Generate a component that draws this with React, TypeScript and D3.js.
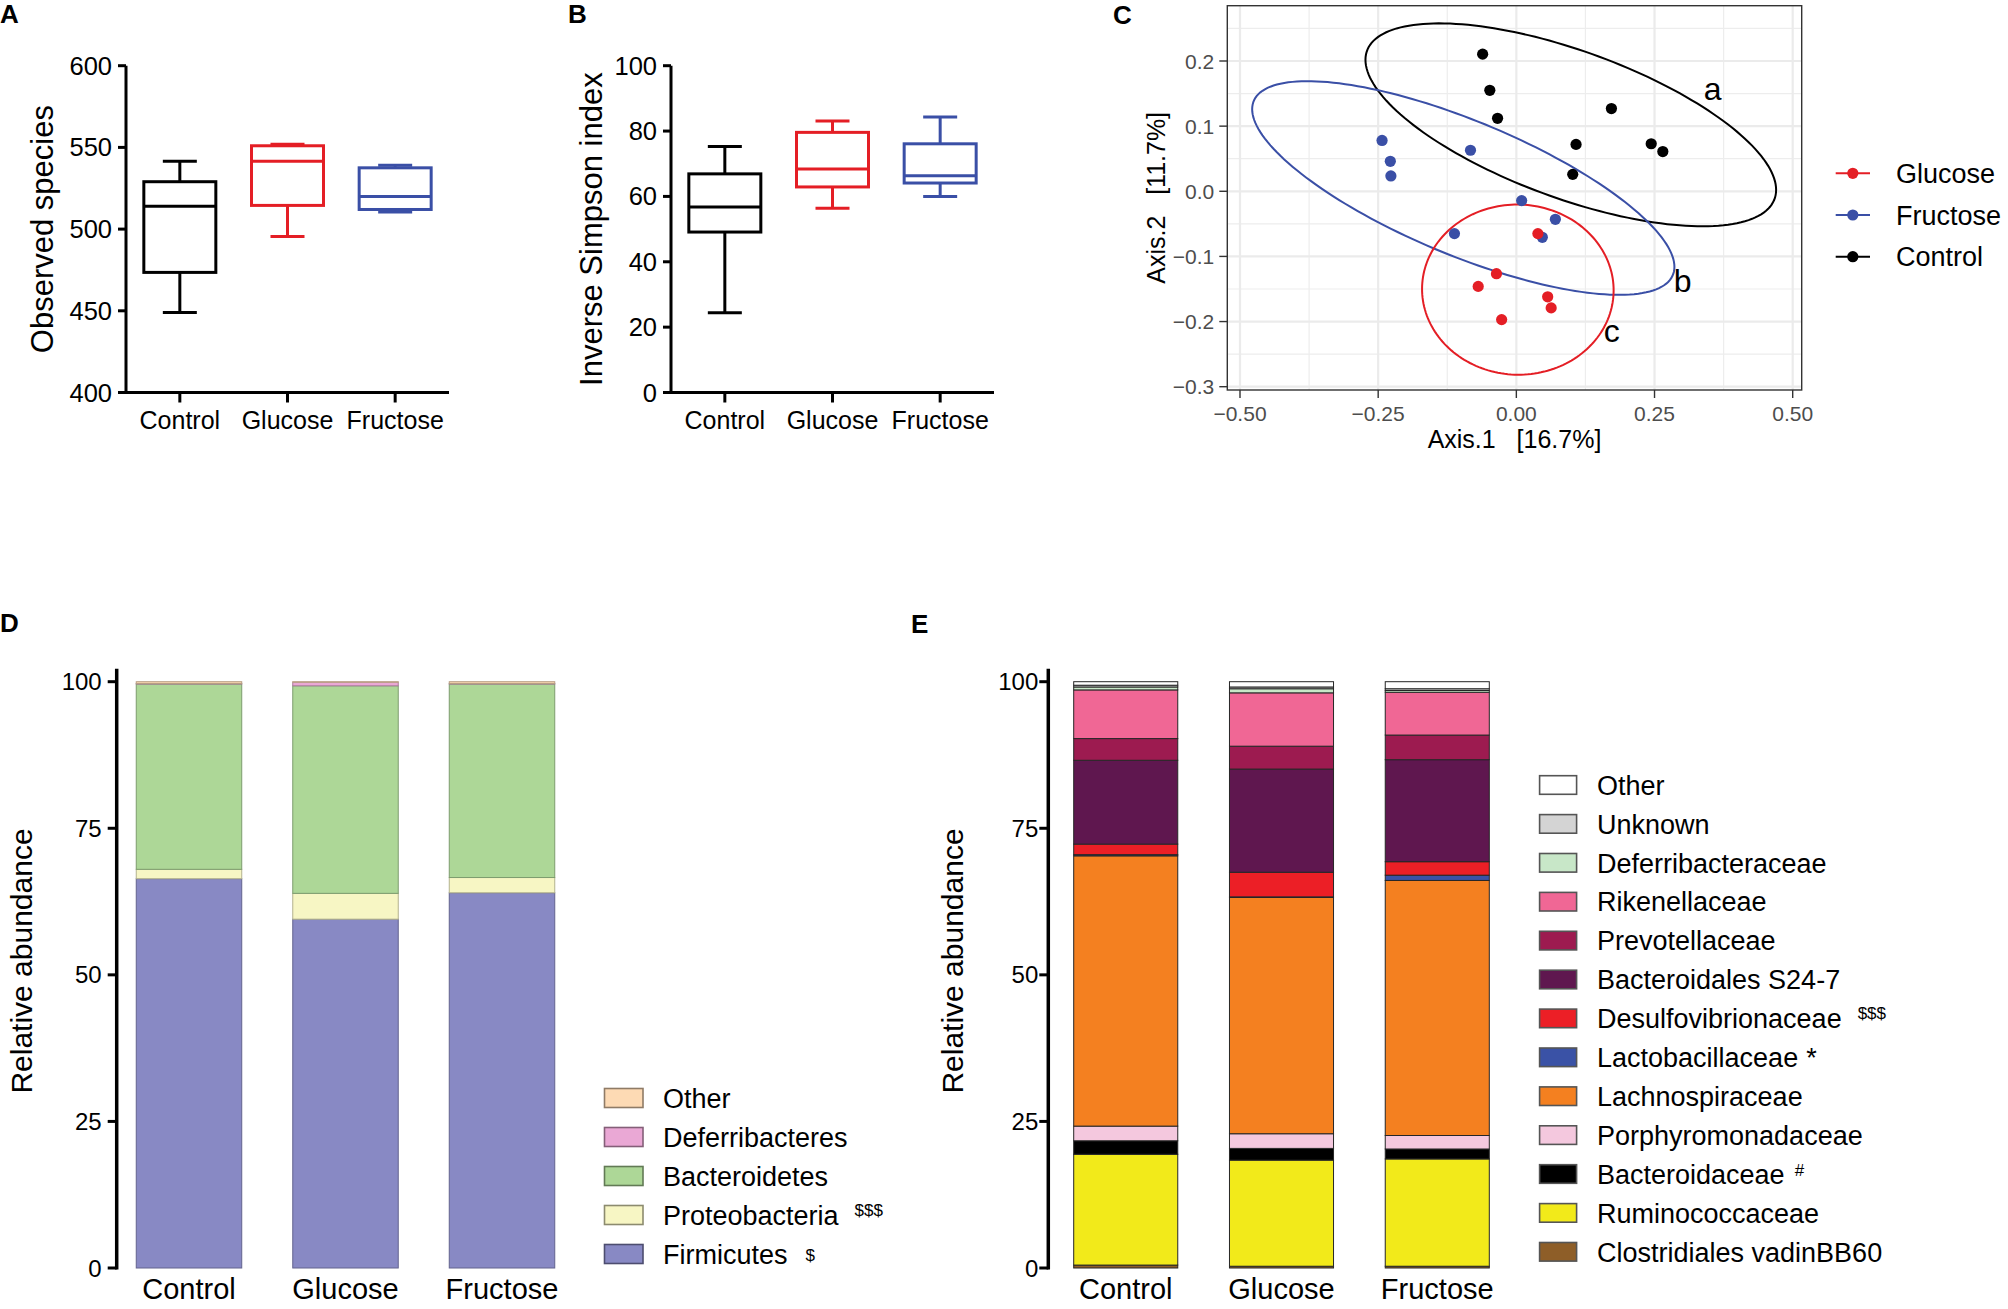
import React from "react";
import * as d3 from "d3";

const FONT = "'Liberation Sans', Arial, Helvetica, sans-serif";

// ---- shared groups ----
const groups = ["Control", "Glucose", "Fructose"];
const boxColors = ["#000000", "#E41E25", "#3A4FA6"];

// ---- A / B: box plot summaries ----
const observedSpecies = [
  { min: 449, q1: 473.5, median: 514, q3: 529, max: 541.5 },
  { min: 495.5, q1: 514.5, median: 541.5, q3: 551, max: 552 },
  { min: 510.5, q1: 512, median: 520, q3: 537.5, max: 539 },
];
const observedTicks = [400, 450, 500, 550, 600];

const inverseSimpson = [
  { min: 24.4, q1: 49.1, median: 56.8, q3: 66.9, max: 75.3 },
  { min: 56.4, q1: 62.9, median: 68.4, q3: 79.6, max: 83.1 },
  { min: 60.0, q1: 64.1, median: 66.3, q3: 76.1, max: 84.3 },
];
const simpsonTicks = [0, 20, 40, 60, 80, 100];

// ---- C: PCoA ----
const pcoaControl = [
  [-0.061, 0.2105], [-0.048, 0.155], [-0.034, 0.112], [0.172, 0.127],
  [0.108, 0.072], [0.244, 0.073], [0.265, 0.061], [0.102, 0.026],
];
const pcoaFructose = [
  [-0.243, 0.078], [-0.228, 0.046], [-0.227, 0.0235], [-0.083, 0.063],
  [0.0096, -0.0143], [-0.112, -0.065], [0.047, -0.0707], [0.0706, -0.043],
];
const pcoaGlucose = [
  [0.039, -0.065], [-0.036, -0.1265], [-0.069, -0.146],
  [-0.0266, -0.197], [0.0567, -0.162], [0.063, -0.179],
];
// ellipse: centre + lower-triangular shape (x = cx + lxx cos t, y = cy + lyx cos t + lyy sin t)
const pcoaEllipses = [
  { color: "#000000", cx: 0.0985, cy: 0.102, lxx: 0.3715, lyx: -0.0998, lyy: 0.1196 },
  { color: "#3A4FA6", cx: -0.096, cy: 0.005, lxx: 0.382, lyx: -0.121, lyy: 0.1107 },
  { color: "#E41E25", cx: 0.0027, cy: -0.151, lxx: 0.1733, lyx: -0.001, lyy: 0.1306 },
];
const pcoaLetters = [
  { text: "a", x: 0.339, y: 0.1398 },
  { text: "b", x: 0.2846, y: -0.1547 },
  { text: "c", x: 0.158, y: -0.2315 },
];
const pcoaXMajor = [-0.5, -0.25, 0, 0.25, 0.5];
const pcoaXMinor = [-0.375, -0.125, 0.125, 0.375];
const pcoaYMajor = [-0.3, -0.2, -0.1, 0, 0.1, 0.2];
const pcoaYMinor = [-0.25, -0.15, -0.05, 0.05, 0.15, 0.25];
const pcoaLegend = ["Glucose", "Fructose", "Control"];
const pcoaLegendColors = ["#E41E25", "#3A4FA6", "#000000"];

// ---- D: phylum composition (bottom to top) ----
const phylumNames = ["Firmicutes", "Proteobacteria", "Bacteroidetes", "Deferribacteres", "Other"];
const phylumColors = ["#8889C4", "#F7F6C4", "#ADD797", "#EAA8D5", "#FDDAB4"];
const phylumMarks = ["$", "$$$", "", "", ""];
const phylumControl = [66.4, 1.6, 31.6, 0.1, 0.3];
const phylumGlucose = [59.5, 4.4, 35.4, 0.6, 0.1];
const phylumFructose = [64.0, 2.6, 33.0, 0.1, 0.3];

// ---- E: family composition (bottom to top) ----
const familyNames = [
  "Clostridiales vadinBB60", "Ruminococcaceae", "Bacteroidaceae", "Porphyromonadaceae",
  "Lachnospiraceae", "Lactobacillaceae", "Desulfovibrionaceae", "Bacteroidales S24-7",
  "Prevotellaceae", "Rikenellaceae", "Deferribacteraceae", "Unknown", "Other",
];
const familyColors = [
  "#8E5E28", "#F2EA1A", "#000000", "#F4C8DE", "#F48020", "#3A52A6", "#EC1F26",
  "#5F174F", "#9D1B50", "#F06795", "#C8E7C8", "#D4D4D4", "#FFFFFF",
];
const familyMarks = ["", "", "#", "", "", "*", "$$$", "", "", "", "", "", ""];
const familyControl = [0.5, 18.9, 2.3, 2.5, 46.1, 0.2, 1.8, 14.3, 3.7, 8.3, 0.5, 0.3, 0.6];
const familyGlucose = [0.3, 18.1, 2.0, 2.5, 40.3, 0.1, 4.2, 17.6, 3.9, 9.1, 0.7, 0.3, 0.9];
const familyFructose = [0.3, 18.3, 1.7, 2.3, 43.5, 0.9, 2.3, 17.4, 4.2, 7.3, 0.3, 0.3, 1.2];
const abundanceTicks = [0, 25, 50, 75, 100];

type Stats = { min: number; q1: number; median: number; q3: number; max: number };

function BoxPanel({ stats, domain, ticks, title, xLeft, xRight, titleX }: {
  stats: Stats[]; domain: [number, number]; ticks: number[]; title: string;
  xLeft: number; xRight: number; titleX: number;
}) {
  const top = 65.7, bottom = 392.5;
  const x = d3.scalePoint<string>().domain(groups).range([xLeft, xRight]).padding(0.5);
  const y = d3.scaleLinear().domain(domain).range([bottom, top]);
  const half = 36, cap = 17;
  return (
    <g>
      <path d={`M${xLeft},${y(domain[1])}V${y(domain[0])}H${xRight}`} fill="none" stroke="#000" strokeWidth={3} />
      {ticks.map((t) => (
        <g key={t}>
          <line x1={xLeft - 8} x2={xLeft} y1={y(t)} y2={y(t)} stroke="#000" strokeWidth={3} />
          <text x={xLeft - 14} y={y(t) + 9} textAnchor="end" fontSize={25.5}>{t}</text>
        </g>
      ))}
      {groups.map((g) => (
        <g key={g}>
          <line x1={x(g)} x2={x(g)} y1={bottom} y2={bottom + 10} stroke="#000" strokeWidth={3} />
          <text x={x(g)} y={bottom + 36} textAnchor="middle" fontSize={25}>{g}</text>
        </g>
      ))}
      {stats.map((s, i) => {
        const cx = x(groups[i])!;
        return (
          <g key={i} stroke={boxColors[i]} strokeWidth={3} fill="none">
            <line x1={cx} x2={cx} y1={y(s.q3)} y2={y(s.max)} />
            <line x1={cx} x2={cx} y1={y(s.q1)} y2={y(s.min)} />
            <line x1={cx - cap} x2={cx + cap} y1={y(s.max)} y2={y(s.max)} />
            <line x1={cx - cap} x2={cx + cap} y1={y(s.min)} y2={y(s.min)} />
            <rect x={cx - half} y={y(s.q3)} width={half * 2} height={y(s.q1) - y(s.q3)} />
            <line x1={cx - half} x2={cx + half} y1={y(s.median)} y2={y(s.median)} />
          </g>
        );
      })}
      <text transform={`translate(${titleX},${(top + bottom) / 2}) rotate(-90)`} textAnchor="middle" fontSize={31}>
        {title}
      </text>
    </g>
  );
}

function PcoaPanel() {
  const L = 1227.3, R = 1801.7, T = 5.7, B = 390;
  const x = d3.scaleLinear().domain([-0.5, 0.5]).range([1240, 1792.7]);
  const y = d3.scaleLinear().domain([-0.3, 0.2]).range([386.7, 61]);
  const angles = d3.range(0, 2 * Math.PI, Math.PI / 90);
  const sets = [
    { pts: pcoaControl, color: "#000000" },
    { pts: pcoaFructose, color: "#3A4FA6" },
    { pts: pcoaGlucose, color: "#E41E25" },
  ];
  return (
    <g>
      {pcoaXMinor.map((v) => <line key={"xm" + v} x1={x(v)} x2={x(v)} y1={T} y2={B} stroke="#EDEDED" strokeWidth={1.2} />)}
      {pcoaYMinor.map((v) => <line key={"ym" + v} x1={L} x2={R} y1={y(v)} y2={y(v)} stroke="#EDEDED" strokeWidth={1.2} />)}
      {pcoaXMajor.map((v) => <line key={"xM" + v} x1={x(v)} x2={x(v)} y1={T} y2={B} stroke="#EBEBEB" strokeWidth={2.2} />)}
      {pcoaYMajor.map((v) => <line key={"yM" + v} x1={L} x2={R} y1={y(v)} y2={y(v)} stroke="#EBEBEB" strokeWidth={2.2} />)}
      {pcoaEllipses.map((e, i) => {
        const d = d3.line<number>()
          .x((t) => x(e.cx + e.lxx * Math.cos(t)))
          .y((t) => y(e.cy + e.lyx * Math.cos(t) + e.lyy * Math.sin(t)))
          .curve(d3.curveLinearClosed)(angles);
        return <path key={i} d={d ?? ""} fill="none" stroke={e.color} strokeWidth={2} />;
      })}
      {sets.map((s) => s.pts.map((p, j) => (
        <circle key={s.color + j} cx={x(p[0])} cy={y(p[1])} r={5.6} fill={s.color} />
      )))}
      {pcoaLetters.map((l) => (
        <text key={l.text} x={x(l.x)} y={y(l.y)} fontSize={32}>{l.text}</text>
      ))}
      <rect x={L} y={T} width={R - L} height={B - T} fill="none" stroke="#333" strokeWidth={1.4} />
      {pcoaXMajor.map((v) => (
        <g key={"xt" + v}>
          <line x1={x(v)} x2={x(v)} y1={B} y2={B + 8} stroke="#333" strokeWidth={1.4} />
          <text x={x(v)} y={B + 31} textAnchor="middle" fontSize={21} fill="#4D4D4D">{d3.format(".2f")(v)}</text>
        </g>
      ))}
      {pcoaYMajor.map((v) => (
        <g key={"yt" + v}>
          <line x1={L - 8} x2={L} y1={y(v)} y2={y(v)} stroke="#333" strokeWidth={1.4} />
          <text x={L - 13} y={y(v) + 7.5} textAnchor="end" fontSize={21} fill="#4D4D4D">{d3.format(".1f")(v)}</text>
        </g>
      ))}
      <text x={(L + R) / 2} y={448} textAnchor="middle" fontSize={25} style={{ whiteSpace: "pre" }}>
        {"Axis.1   [16.7%]"}
      </text>
      <text transform={`translate(1164.5,${(T + B) / 2}) rotate(-90)`} textAnchor="middle" fontSize={25} style={{ whiteSpace: "pre" }}>
        {"Axis.2   [11.7%]"}
      </text>
      {pcoaLegend.map((g, i) => {
        const cy = 173.3 + i * 41.7;
        return (
          <g key={g}>
            <line x1={1835.7} x2={1870} y1={cy} y2={cy} stroke={pcoaLegendColors[i]} strokeWidth={2} />
            <circle cx={1852.8} cy={cy} r={5.6} fill={pcoaLegendColors[i]} />
            <text x={1896} y={cy + 9.7} fontSize={27}>{g}</text>
          </g>
        );
      })}
    </g>
  );
}

const markStyle: Record<string, { size: number; dx: number; dy: number }> = {
  "$$$": { size: 17, dx: 16, dy: -9 },
  "#": { size: 17, dx: 10, dy: -8 },
  "$": { size: 17, dx: 18, dy: -3 },
  "*": { size: 27, dx: 8, dy: 0 },
};

function StackPanel({ rows, names, colors, marks, axisX, range, padIn, padOut, darkStroke, keyX, keyW, keyH, keyTop, keyStep, textX, titleX, labelGap }: {
  rows: number[][]; names: string[]; colors: string[]; marks: string[];
  axisX: number; range: [number, number]; padIn: number; padOut: number; darkStroke: boolean;
  keyX: number; keyW: number; keyH: number; keyTop: number; keyStep: number; textX: number;
  titleX: number; labelGap: number;
}) {
  const y = d3.scaleLinear().domain([0, 100]).range([1268, 681.7]);
  const x = d3.scaleBand<string>().domain(groups).range(range).paddingInner(padIn).paddingOuter(padOut);
  const table = groups.map((g, i) => {
    const o: Record<string, number | string> = { group: g };
    names.forEach((n, j) => { o[n] = rows[i][j]; });
    return o;
  });
  const series = d3.stack<Record<string, number | string>>().keys(names)(table as any);
  const strokeOf = (c: string) => (darkStroke ? "#262626" : d3.color(c)!.darker(0.9).formatHex());
  const legendOrder = names.map((_, i) => i).reverse();
  return (
    <g>
      {series.map((s, k) => s.map((d, i) => (
        <rect key={names[k] + i} x={x(groups[i])} width={x.bandwidth()} y={y(d[1])} height={Math.max(0, y(d[0]) - y(d[1]))}
          fill={colors[k]} stroke={strokeOf(colors[k])} strokeWidth={1} />
      )))}
      <line x1={axisX} x2={axisX} y1={y(102.2)} y2={y(0) + 1.5} stroke="#000" strokeWidth={3.5} />
      {abundanceTicks.map((t) => (
        <g key={t}>
          <line x1={axisX - 9} x2={axisX} y1={y(t)} y2={y(t)} stroke="#000" strokeWidth={3} />
          <text x={axisX - 9 - labelGap} y={y(t) + 8.6} textAnchor="end" fontSize={24}>{t}</text>
        </g>
      ))}
      {groups.map((g) => (
        <text key={g} x={x(g)! + x.bandwidth() / 2} y={1299} textAnchor="middle" fontSize={29}>{g}</text>
      ))}
      <text transform={`translate(${titleX},961) rotate(-90)`} textAnchor="middle" fontSize={30}>Relative abundance</text>
      {legendOrder.map((k, r) => {
        const cy = keyTop + r * keyStep;
        const m = marks[k];
        const ms = m ? markStyle[m] : null;
        return (
          <g key={names[k]}>
            <rect x={keyX} y={cy - keyH / 2} width={keyW} height={keyH} fill={colors[k]}
              stroke={darkStroke ? "#555" : d3.color(colors[k])!.darker(1.6).formatHex()} strokeWidth={1.6} />
            <text x={textX} y={cy + 9.7} fontSize={27}>
              {names[k]}
              {ms && <tspan dx={ms.dx} dy={ms.dy} fontSize={ms.size}>{m}</tspan>}
            </text>
          </g>
        );
      })}
    </g>
  );
}

function Letter({ x, y, t }: { x: number; y: number; t: string }) {
  return <text x={x} y={y} fontSize={26} fontWeight="bold">{t}</text>;
}

export default function App() {
  return (
    <svg width={2008} height={1309} style={{ position: "absolute", left: 0, top: 0, background: "#fff" }}
      fontFamily={FONT}>
      <Letter x={0} y={23} t="A" />
      <Letter x={568} y={23} t="B" />
      <Letter x={1113} y={24} t="C" />
      <Letter x={0} y={632} t="D" />
      <Letter x={911} y={633} t="E" />
      <BoxPanel stats={observedSpecies} domain={[400, 600]} ticks={observedTicks} title="Observed species"
        xLeft={126} xRight={449} titleX={53} />
      <BoxPanel stats={inverseSimpson} domain={[0, 100]} ticks={simpsonTicks} title="Inverse Simpson index"
        xLeft={671} xRight={994} titleX={602} />
      <PcoaPanel />
      <StackPanel rows={[phylumControl, phylumGlucose, phylumFructose]} names={phylumNames} colors={phylumColors}
        marks={phylumMarks} axisX={116.7} range={[117, 574]} padIn={0.326} padOut={0.123} darkStroke={false}
        keyX={604.5} keyW={38.5} keyH={19} keyTop={1098} keyStep={39} textX={663} titleX={32} labelGap={6} />
      <StackPanel rows={[familyControl, familyGlucose, familyFructose]} names={familyNames} colors={familyColors}
        marks={familyMarks} axisX={1048.3} range={[1048, 1515]} padIn={0.332} padOut={0.165} darkStroke={true}
        keyX={1539.6} keyW={37} keyH={18.6} keyTop={785} keyStep={38.9} textX={1597} titleX={963} labelGap={1} />
    </svg>
  );
}
